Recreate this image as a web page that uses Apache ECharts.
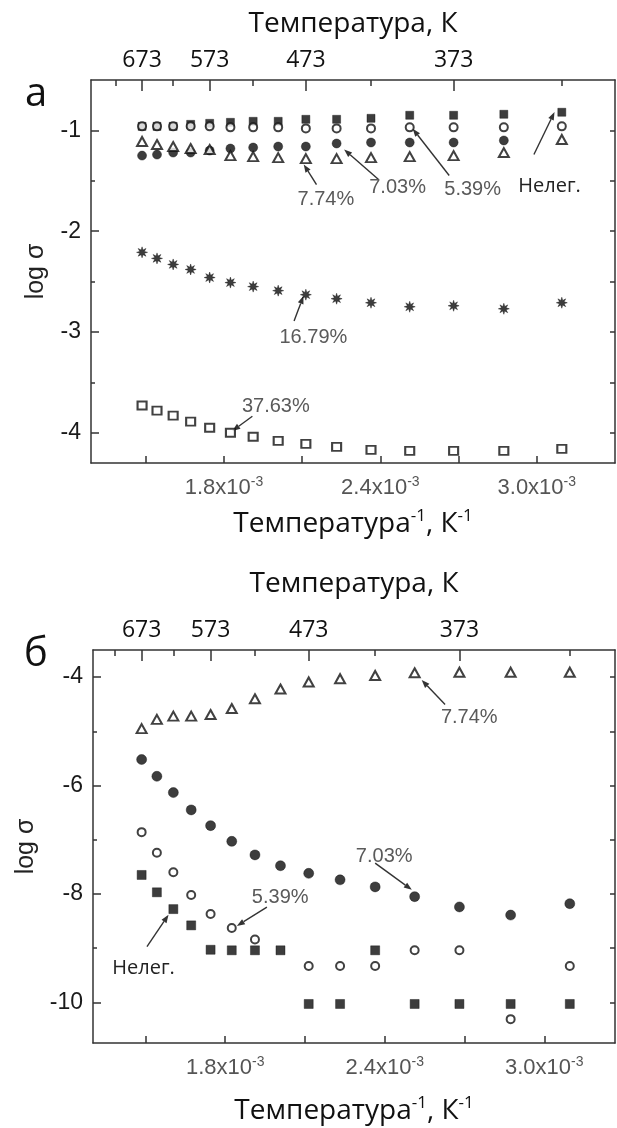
<!DOCTYPE html>
<html><head><meta charset="utf-8">
<script src="https://cdn.jsdelivr.net/npm/echarts@6/dist/echarts.min.js"></script>
<style>html,body{margin:0;padding:0;background:#fff}#c{width:617px;height:1128px}</style>
</head><body><div id="c"></div>
<script>
// ---- data ----
const temperaturesK = [673,648,623,598,573,548,523,498,473,448,423,398,373,348,323];
const topMajorT = [673,573,473,373];
const topMinorT = [723,623,523,423,323];
const xTickValues = [1.5,1.8,2.1,2.4,2.7,3.0];
const xLabelValues = [1.8,2.4,3.0];

// panel a (log sigma)
const aNeleg = [-0.96,-0.96,-0.96,-0.94,-0.93,-0.92,-0.91,-0.91,-0.89,-0.89,-0.88,-0.85,-0.85,-0.84,-0.82];
const a539   = [-0.96,-0.96,-0.96,-0.96,-0.96,-0.97,-0.97,-0.97,-0.98,-0.98,-0.98,-0.97,-0.97,-0.97,-0.96];
const a703   = [-1.25,-1.24,-1.22,-1.22,-1.20,-1.18,-1.17,-1.16,-1.16,-1.13,-1.12,-1.12,-1.12,-1.10,null];
const a774   = [-1.11,-1.14,-1.16,-1.18,-1.19,-1.25,-1.26,-1.27,-1.28,-1.28,-1.27,-1.26,-1.25,-1.22,-1.09];
const a1679  = [-2.21,-2.27,-2.33,-2.38,-2.46,-2.51,-2.55,-2.59,-2.63,-2.67,-2.71,-2.75,-2.74,-2.77,-2.71];
const a3763  = [-3.73,-3.78,-3.83,-3.89,-3.95,-4.00,-4.04,-4.08,-4.11,-4.14,-4.17,-4.18,-4.18,-4.18,-4.16];
const aYTicks  = [-4,-3.5,-3,-2.5,-2,-1.5,-1];
const aYLabels = [-4,-3,-2,-1];

// panel b (log sigma)
const bNeleg = [-7.65,-7.97,-8.28,-8.58,-9.03,-9.04,-9.04,-9.04,-10.03,-10.03,-9.04,-10.03,-10.03,-10.03,-10.03];
const b539   = [-6.86,-7.24,-7.60,-8.02,-8.37,-8.63,-8.84,null,-9.33,-9.33,-9.33,-9.04,-9.04,-10.31,-9.33];
const b703   = [-5.52,-5.83,-6.13,-6.45,-6.74,-7.03,-7.28,-7.48,-7.62,-7.74,-7.87,-8.05,-8.24,-8.39,-8.18];
const b774   = [-4.95,-4.78,-4.72,-4.72,-4.69,-4.58,-4.40,-4.22,-4.09,-4.03,-3.97,-3.92,-3.91,-3.91,-3.91];
const bYTicks  = [-10,-9,-8,-7,-6,-5,-4];
const bYLabels = [-10,-8,-6,-4];

// annotations: text position, arrow tail, arrow tip (data coords)
const aNotes = [
  {text:'7.74%',  at:[2.191,-1.687], from:[2.155,-1.537], to:[2.106,-1.338]},
  {text:'7.03%',  at:[2.466,-1.570], from:[2.393,-1.488], to:[2.261,-1.189]},
  {text:'5.39%',  at:[2.754,-1.587], from:[2.664,-1.448], to:[2.524,-0.983]},
  {text:'Нелег.', at:[3.049,-1.554], from:[2.989,-1.239], to:[3.068,-0.818], dark:true},
  {text:'16.79%', at:[2.143,-3.053], from:[2.069,-2.891], to:[2.105,-2.642]},
  {text:'37.63%', at:[1.999,-3.743], from:[1.909,-3.836], to:[1.832,-3.982]}
];
const bNotes = [
  {text:'7.74%',  at:[2.718,-4.750], from:[2.627,-4.505], to:[2.539,-4.055]},
  {text:'7.03%',  at:[2.398,-7.309], from:[2.364,-7.431], to:[2.502,-7.924]},
  {text:'5.39%',  at:[2.007,-8.059], from:[1.957,-8.244], to:[1.844,-8.590]},
  {text:'Нелег.', at:[1.493,-9.372], from:[1.506,-8.972], to:[1.587,-8.386], dark:true}
];

// ---- chart ----
const invT = temperaturesK.map(t => 1000 / t);
const AXC = '#333';
const SANS = 'Liberation Sans';
const CAL = 'Open Sans';

function starPath() {
  let d = 'path://';
  for (let i = 0; i < 16; i++) {
    const r = i % 2 === 0 ? 10 : 4.5;
    const a = Math.PI * i / 8;
    d += (i === 0 ? 'M' : 'L') + (r * Math.cos(a)).toFixed(2) + ',' + (r * Math.sin(a)).toFixed(2) + ' ';
  }
  return d + 'Z';
}

const panels = [
  {grid:{left:91, top:80, right:2, height:383}, xmin:1.29, xmax:3.30, ymin:-4.3, ymax:-0.5,
   yTicks:aYTicks, yLabels:aYLabels, topGap:42, botGap:45},
  {grid:{left:93, top:650, right:2, height:393}, xmin:1.303, xmax:3.266, ymin:-10.75, ymax:-3.5,
   yTicks:bYTicks, yLabels:bYLabels, topGap:52, botGap:52}
];

const supRich = {
  m: {fontFamily: SANS, fontSize: 22, color: '#555', lineHeight: 26},
  s: {fontFamily: SANS, fontSize: 14, color: '#555', lineHeight: 13, verticalAlign: 'top'}
};
const nameRich = {
  m: {fontFamily: CAL, fontSize: 28, color: '#111', lineHeight: 32},
  s: {fontFamily: CAL, fontSize: 17, color: '#111', lineHeight: 15, verticalAlign: 'top'}
};

const xAxis = [], yAxis = [];
panels.forEach((p, i) => {
  const base = {type:'value', gridIndex:i, min:p.xmin, max:p.xmax, splitLine:{show:false}};
  xAxis.push(Object.assign({}, base, {
    position:'bottom',
    axisLine:{show:true, lineStyle:{color:AXC, width:1.5}},
    axisTick:{show:true, inside:true, length:7, lineStyle:{color:AXC, width:1.5}, customValues:xTickValues},
    axisLabel:{customValues:xLabelValues, margin:12, formatter: v => '{m|' + v.toFixed(1) + 'x10}{s|-3}', rich:supRich},
    name:'{m|Температура}{s|-1}{m|, К}{s|-1}', nameLocation:'middle', nameGap:p.botGap,
    nameTextStyle:{rich:nameRich}
  }));
  xAxis.push(Object.assign({}, base, {
    position:'top',
    axisLine:{show:true, lineStyle:{color:AXC, width:1.5}},
    axisTick:{show:true, inside:true, length:11, lineStyle:{color:AXC, width:1.5}, customValues:topMajorT.map(t => 1000/t)},
    axisLabel:{customValues:topMajorT.map(t => 1000/t), margin:8, formatter: v => String(Math.round(1000/v)),
      fontFamily:CAL, fontSize:23, color:'#111'},
    name:'Температура, К', nameLocation:'middle', nameGap:p.topGap,
    nameTextStyle:{fontFamily:CAL, fontSize:28, color:'#111'}
  }));
  xAxis.push(Object.assign({}, base, {
    position:'top',
    axisLine:{show:false},
    axisTick:{show:true, inside:true, length:6, lineStyle:{color:AXC, width:1.5}, customValues:topMinorT.map(t => 1000/t)},
    axisLabel:{show:false}
  }));
  const ybase = {type:'value', gridIndex:i, min:p.ymin, max:p.ymax, splitLine:{show:false}};
  yAxis.push(Object.assign({}, ybase, {
    position:'left',
    axisLine:{show:true, lineStyle:{color:AXC, width:1.5}},
    axisTick:{show:true, inside:true, length:8, lineStyle:{color:AXC, width:1.5}, customValues:p.yLabels},
    axisLabel:{customValues:p.yLabels, margin:10, fontFamily:SANS, fontSize:23, color:'#1a1a1a', formatter: v => String(v)},
    name:'log σ', nameLocation:'middle', nameGap:42,
    nameTextStyle:{fontFamily:SANS, fontSize:25, color:'#222'}
  }));
  yAxis.push(Object.assign({}, ybase, {
    position:'left',
    axisLine:{show:false},
    axisTick:{show:true, inside:true, length:4, lineStyle:{color:AXC, width:1.5}, customValues:p.yTicks},
    axisLabel:{show:false}
  }));
  yAxis.push(Object.assign({}, ybase, {
    position:'right',
    axisLine:{show:true, lineStyle:{color:AXC, width:1.5}},
    axisTick:{show:true, inside:true, length:5, lineStyle:{color:AXC, width:1.5}, customValues:p.yTicks},
    axisLabel:{show:false}
  }));
});

function pts(arr) {
  return invT.map((x, i) => [x, arr[i]]).filter(d => d[1] !== null);
}
function sc(panel, name, arr, symbol, size, open, z) {
  return {
    type:'scatter', name, xAxisIndex:panel*3, yAxisIndex:panel*3,
    data:pts(arr), symbol, symbolSize:size,
    itemStyle: open ? {color:'#fff', borderColor:'#111', borderWidth:2} : {color:'#0d0d0d', borderColor:'#0d0d0d', borderWidth:0.5},
    emphasis:{disabled:true}, silent:true, z: z
  };
}

const series = [
  sc(0,'Нелег.', aNeleg, 'rect', [8,8], false, 2),
  sc(0,'5.39%', a539, 'circle', 8, true, 3),
  sc(0,'7.03%', a703, 'circle', 9, false, 2),
  sc(0,'7.74%', a774, 'triangle', [10,9], true, 3),
  sc(0,'16.79%', a1679, starPath(), 11, false, 2),
  sc(0,'37.63%', a3763, 'rect', [9,8], true, 2),
  sc(1,'7.74%', b774, 'triangle', [10,9], true, 2),
  sc(1,'7.03%', b703, 'circle', 10, false, 2),
  sc(1,'5.39%', b539, 'circle', 8, true, 3),
  sc(1,'Нелег.', bNeleg, 'rect', [9,9], false, 2)
];

const chart = echarts.init(document.getElementById('c'), null, {renderer:'canvas'});
chart.setOption({
  animation:false,
  backgroundColor:'#fff',
  grid:panels.map(p => Object.assign({containLabel:false}, p.grid)),
  xAxis, yAxis, series
});

// annotation arrows and texts anchored in data coordinates
const graphic = [];
[aNotes, bNotes].forEach((notes, p) => {
  const finder = {xAxisIndex:p*3, yAxisIndex:p*3};
  notes.forEach(n => {
    const a = chart.convertToPixel(finder, n.at);
    const f = chart.convertToPixel(finder, n.from);
    const t = chart.convertToPixel(finder, n.to);
    const dx = t[0]-f[0], dy = t[1]-f[1], L = Math.hypot(dx, dy);
    const ux = dx/L, uy = dy/L, hl = 8, hw = 3;
    const bx = t[0]-ux*hl, by = t[1]-uy*hl;
    graphic.push({type:'line', shape:{x1:f[0], y1:f[1], x2:bx, y2:by}, style:{stroke:'#333', lineWidth:1.4}, silent:true});
    graphic.push({type:'polygon', shape:{points:[[t[0],t[1]],[bx-uy*hw, by+ux*hw],[bx+uy*hw, by-ux*hw]]}, style:{fill:'#333'}, silent:true});
    graphic.push({type:'text', x:a[0], y:a[1], silent:true,
      style:{text:n.text, align:'center', verticalAlign:'middle', textAlign:'center', textVerticalAlign:'middle',
        fill: n.dark ? '#222' : '#5a5a5a',
        font: n.dark ? ('20px "' + CAL + '"') : ('20px "' + SANS + '"')}});
  });
});
graphic.push({type:'text', x:36, y:95, silent:true, style:{text:'а', align:'center', verticalAlign:'middle', textAlign:'center', textVerticalAlign:'middle', fill:'#111', font:'40px "Open Sans"'}});
graphic.push({type:'text', x:36, y:655, silent:true, style:{text:'б', align:'center', verticalAlign:'middle', textAlign:'center', textVerticalAlign:'middle', fill:'#111', font:'40px "Open Sans"'}});
chart.setOption({graphic});
</script>
</body></html>
